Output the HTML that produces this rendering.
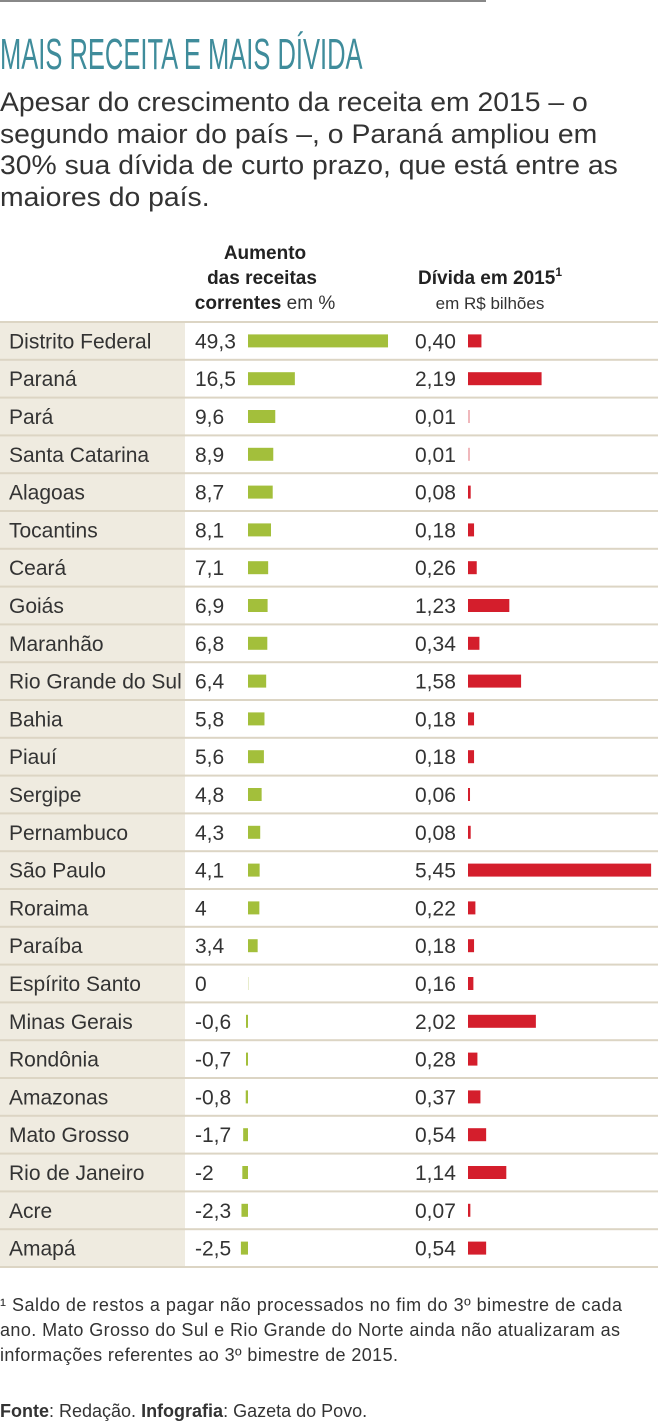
<!DOCTYPE html>
<html><head><meta charset="utf-8"><style>
body{margin:0;width:658px;height:1424px;background:#fff;overflow:hidden;font-family:"Liberation Sans",sans-serif;color:#333}
.abs{position:absolute}
</style></head><body>
<div class="abs" style="left:0;top:0;width:486px;height:2px;background:#888"></div>
<div class="abs" style="left:0;top:30px;font-size:44px;color:#3f8c9b;transform:scaleX(0.58);transform-origin:left;white-space:nowrap">MAIS RECEITA E MAIS DÍVIDA</div>
<div class="abs" style="left:0;top:87px;font-family:'Liberation Sans',sans-serif;font-size:27px;line-height:31.5px;color:#333;width:660px;white-space:nowrap;transform:scaleX(1.05);transform-origin:left">Apesar do crescimento da receita em 2015 – o<br>segundo maior do país –, o Paraná ampliou em<br>30% sua dívida de curto prazo, que está entre as<br>maiores do país.</div>
<svg class="abs" style="left:0;top:0" width="658" height="1424">
<g id="g" font-family="Liberation Sans, sans-serif"></g>
<text x="265" y="259" text-anchor="middle" font-size="19" font-weight="bold" fill="#222">Aumento</text>
<text x="262" y="284" text-anchor="middle" font-size="19" font-weight="bold" fill="#222">das receitas</text>
<text x="265" y="309" text-anchor="middle" font-size="19" fill="#333"><tspan font-weight="bold" fill="#222">correntes</tspan> em %</text>
<text x="490" y="284" text-anchor="middle" font-size="19" font-weight="bold" fill="#222">Dívida em 2015<tspan dy="-8" font-size="12">1</tspan></text>
<text x="490" y="309" text-anchor="middle" font-size="17" fill="#333">em R$ bilhões</text>
<text font-size="18" fill="#333"><tspan x="0" y="1311" textLength="622">¹ Saldo de restos a pagar não processados no fim do 3º bimestre de cada</tspan><tspan x="0" y="1336" textLength="620">ano. Mato Grosso do Sul e Rio Grande do Norte ainda não atualizaram as</tspan><tspan x="0" y="1361" textLength="398">informações referentes ao 3º bimestre de 2015.</tspan></text>
<text x="0" y="1417" font-size="18" fill="#333"><tspan font-weight="bold">Fonte</tspan>: Redação. <tspan font-weight="bold">Infografia</tspan>: Gazeta do Povo.</text>
</svg>
<script>
const states=["Distrito Federal","Paraná","Pará","Santa Catarina","Alagoas","Tocantins","Ceará","Goiás","Maranhão","Rio Grande do Sul","Bahia","Piauí","Sergipe","Pernambuco","São Paulo","Roraima","Paraíba","Espírito Santo","Minas Gerais","Rondônia","Amazonas","Mato Grosso","Rio de Janeiro","Acre","Amapá"];
const revenue=[49.3,16.5,9.6,8.9,8.7,8.1,7.1,6.9,6.8,6.4,5.8,5.6,4.8,4.3,4.1,4,3.4,0,-0.6,-0.7,-0.8,-1.7,-2,-2.3,-2.5];
const revenueLabels=["49,3","16,5","9,6","8,9","8,7","8,1","7,1","6,9","6,8","6,4","5,8","5,6","4,8","4,3","4,1","4","3,4","0","-0,6","-0,7","-0,8","-1,7","-2","-2,3","-2,5"];
const debt=[0.40,2.19,0.01,0.01,0.08,0.18,0.26,1.23,0.34,1.58,0.18,0.18,0.06,0.08,5.45,0.22,0.18,0.16,2.02,0.28,0.37,0.54,1.14,0.07,0.54];
const debtLabels=["0,40","2,19","0,01","0,01","0,08","0,18","0,26","1,23","0,34","1,58","0,18","0,18","0,06","0,08","5,45","0,22","0,18","0,16","2,02","0,28","0,37","0,54","1,14","0,07","0,54"];
const NS="http://www.w3.org/2000/svg";
const g=document.getElementById('g');
const top0=322,rh=37.8,bh=13;
const yRow=i=>top0+i*rh;
const xRev=v=>248+v*2.84;
const xDebt=v=>468+v*33.6;
function mk(t,a){const e=document.createElementNS(NS,t);for(const k in a)e.setAttribute(k,a[k]);g.appendChild(e);return e;}
const bg=mk('rect',{x:0,y:top0,width:185,height:rh*states.length,fill:'#efebe0'});


for(let i=0;i<=states.length;i++){
 const l=mk('rect',{x:0,y:yRow(i)-1,width:658,height:2,fill:'#dcd5c4'});
 
 
}
states.forEach((s,i)=>{
 const cy=yRow(i)+rh/2;
 const t=mk('text',{x:9,y:cy+7.5,'font-size':21,fill:'#333'});t.textContent=s;
 
 
 const rv=mk('text',{x:195,y:cy+7.5,'font-size':21,fill:'#333'});rv.textContent=revenueLabels[i];
 
 
 const v=revenue[i];
 let x1=Math.min(xRev(0),xRev(v)),w=Math.abs(xRev(v)-xRev(0));
 if(v<0){x1=xRev(0)-Math.max(w,2);w=Math.max(w,2);}
 const gb=mk('rect',{x:x1,y:cy-bh/2,width:Math.max(w,v===0?1:2),height:bh,fill:v===0?'#e8eccc':'#a3bf3b'});
 
 
 const dv=mk('text',{x:415,y:cy+7.5,'font-size':21,fill:'#333'});dv.textContent=debtLabels[i];
 
 
 const dw=Math.max(xDebt(debt[i])-xDebt(0),2);
 const rb=mk('rect',{x:xDebt(0),y:cy-bh/2,width:dw,height:bh,fill:debt[i]<0.03?'#f0b8bc':'#d41e2c'});
 
 
});
</script>
</body></html>
